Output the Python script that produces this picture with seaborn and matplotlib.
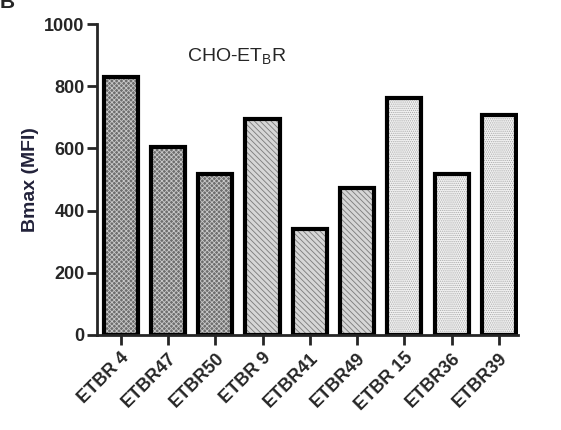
import matplotlib
matplotlib.use("Agg")
import matplotlib.pyplot as plt
import seaborn as sns
import pandas as pd

clones = ["ETBR 4", "ETBR47", "ETBR50", "ETBR 9", "ETBR41", "ETBR49", "ETBR 15", "ETBR36", "ETBR39"]
bmax = [830, 604, 518, 695, 341, 473, 762, 518, 707]
faces = ["#6e6e6e"] * 3 + ["#d6d6d6"] * 3 + ["#f2f2f2"] * 3
hatch_cols = ["#c8c8c8"] * 3 + ["#7a7a7a"] * 3 + ["#a8a8a8"] * 3
hatches = ["xxxxxxx"] * 3 + ["\\\\\\\\\\\\"] * 3 + ["........"] * 3

sns.set_style("ticks")
plt.rcParams["font.family"] = ["Liberation Sans", "DejaVu Sans"]
plt.rcParams["hatch.linewidth"] = 0.6

data = pd.DataFrame({"clone": clones, "bmax": bmax})

fig = plt.figure(figsize=(5.61, 4.30), dpi=100)
ax = fig.add_axes([0.173, 0.221, 0.75, 0.723])

# fill + hatch layer
sns.barplot(data=data, x="clone", y="bmax", ax=ax, width=0.72, color="white", linewidth=0)
for p, fc, hc, h in zip(ax.patches, faces, hatch_cols, hatches):
    p.set_facecolor(fc)
    p.set_edgecolor(hc)
    p.set_hatch(h)
    p.set_linewidth(0)

# outline layer
sns.barplot(data=data, x="clone", y="bmax", ax=ax, width=0.72, fill=False,
            edgecolor="black", linewidth=3)

ax.set_ylim(0, 1000)
ax.set_xlim(-0.5, 8.4)
ax.set_yticks(range(0, 1001, 200))
ax.set_xlabel("")
ax.set_ylabel("Bmax (MFI)", fontsize=14, fontweight="bold", color="#22223a", labelpad=4)
sns.despine(ax=ax)
for s in ["left", "bottom"]:
    ax.spines[s].set_linewidth(2)
ax.tick_params(axis="both", width=2, length=7, labelsize=13)
ax.tick_params(axis="y", pad=2)
for lab in ax.get_yticklabels():
    lab.set_fontweight("bold")
ax.set_xticks(range(len(clones)))
ax.set_xticklabels(clones, rotation=45, ha="right", rotation_mode="anchor",
                   fontweight="bold", fontsize=13)

ax.text(2.45, 894, "CHO-ET$_\\mathregular{B}$R", fontsize=14, ha="center", va="center")
fig.text(0.0, 0.995, "B", fontsize=15, fontweight="bold", va="center", ha="left")

fig.savefig("out.png", dpi=100)
